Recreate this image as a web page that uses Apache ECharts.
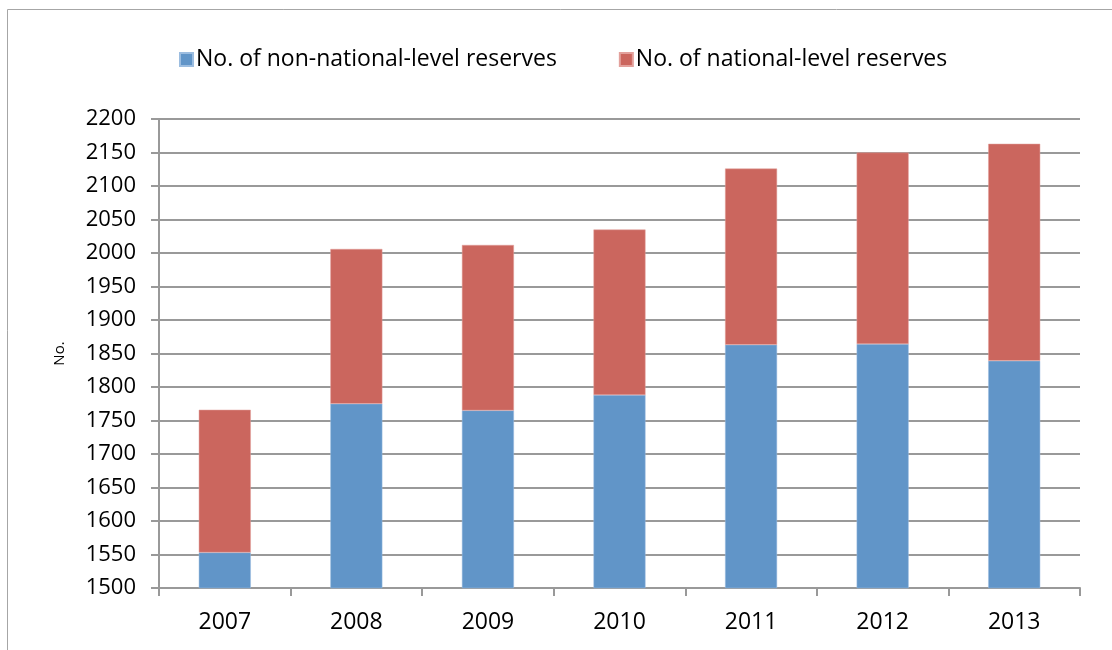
<!DOCTYPE html>
<html>
<head>
<meta charset="utf-8">
<script src="https://cdn.jsdelivr.net/npm/echarts@6/dist/echarts.min.js"></script>
<style>
html,body{margin:0;padding:0;background:#fff;}
#chart{width:1112px;height:650px;}
</style>
</head>
<body>
<div id="chart"></div>
<script>
const categories = ['2007','2008','2009','2010','2011','2012','2013'];
const nonNational = [1553, 1775, 1765, 1788, 1863, 1864, 1839];
const national = [213, 231, 247, 247, 263, 286, 324];
const seriesNames = ['No. of non-national-level reserves', 'No. of national-level reserves'];
const yAxisName = 'No.';

const FONT = '"Open Sans", sans-serif';
const chart = echarts.init(document.getElementById('chart'), null, {renderer: 'canvas'});
chart.setOption({
  animation: false,
  backgroundColor: '#fff',
  graphic: [{
    type: 'rect', shape: {x: 7.5, y: 9.5, width: 1120, height: 660},
    style: {fill: 'none', stroke: '#a6a6a6', lineWidth: 1}, silent: true
  }],
  legend: {
    top: 43, left: 174,
    itemWidth: 13, itemHeight: 13, itemGap: 62,
    icon: 'rect',
    textStyle: {fontFamily: FONT, fontSize: 23, color: '#000', padding: [0,0,0,-2]},
    data: seriesNames
  },
  grid: {left: 159, right: 32, top: 119, bottom: 62, containLabel: false},
  xAxis: {
    type: 'category', data: categories,
    axisLine: {lineStyle: {color: '#999', width: 2}},
    axisTick: {show: true, length: 8, lineStyle: {color: '#999', width: 2}},
    axisLabel: {fontFamily: FONT, fontSize: 23, color: '#000', margin: 23},
    splitLine: {show: false}
  },
  yAxis: {
    type: 'value', min: 1500, max: 2200, interval: 50,
    name: yAxisName, nameLocation: 'middle', nameGap: 92, nameRotate: 90,
    nameTextStyle: {fontFamily: FONT, fontSize: 15, color: '#000'},
    axisLine: {show: true, lineStyle: {color: '#999', width: 2}},
    axisTick: {show: true, length: 8, lineStyle: {color: '#999', width: 2}},
    axisLabel: {fontFamily: FONT, fontSize: 22, color: '#000', margin: 23,
                formatter: function (v) { return String(v); }},
    splitLine: {lineStyle: {color: '#999', width: 2}}
  },
  series: [
    {name: seriesNames[0], type: 'bar', stack: 'total', data: nonNational,
     barWidth: 52, itemStyle: {color: '#6195C8', borderColor: '#9cbde0', borderWidth: 0.5}},
    {name: seriesNames[1], type: 'bar', stack: 'total', data: national,
     barWidth: 52, itemStyle: {color: '#CB665E', borderColor: '#e3a19c', borderWidth: 0.5}}
  ]
});
</script>
</body>
</html>
